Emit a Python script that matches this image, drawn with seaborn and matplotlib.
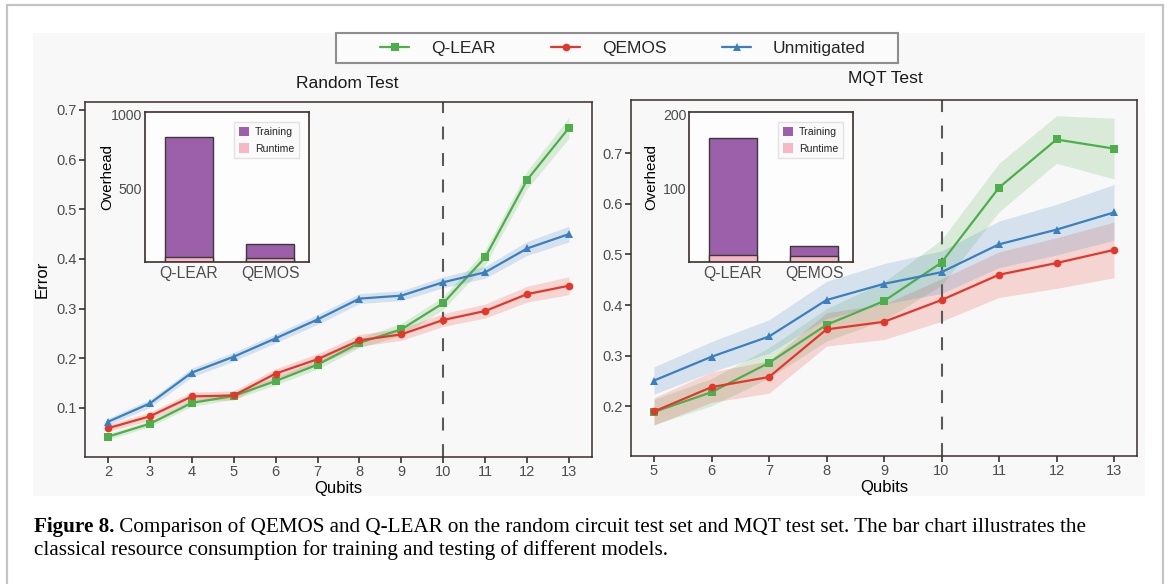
import numpy as np
import pandas as pd
import matplotlib
matplotlib.use("Agg")
import matplotlib.pyplot as plt
import seaborn as sns
from matplotlib.patches import Rectangle, Patch
from matplotlib.lines import Line2D

sns.set_theme(style="white")
plt.rcParams['font.family'] = ['Liberation Sans', 'DejaVu Sans']

# ---------------- data ----------------
series_names = ["Q-LEAR", "QEMOS", "Unmitigated"]

rand_qubits = [2, 3, 4, 5, 6, 7, 8, 9, 10, 11, 12, 13]
rand_qlear = [0.042, 0.068, 0.110, 0.124, 0.154, 0.187, 0.231, 0.258, 0.311, 0.403, 0.559, 0.664]
rand_qemos = [0.059, 0.083, 0.123, 0.125, 0.169, 0.198, 0.236, 0.248, 0.277, 0.295, 0.329, 0.346]
rand_unmit = [0.072, 0.109, 0.171, 0.203, 0.240, 0.278, 0.320, 0.326, 0.353, 0.373, 0.421, 0.450]
rand_qlear_band = [0.006, 0.006, 0.007, 0.007, 0.008, 0.009, 0.010, 0.012, 0.013, 0.015, 0.018, 0.021]
rand_qemos_band = [0.007, 0.008, 0.009, 0.009, 0.010, 0.011, 0.012, 0.012, 0.013, 0.014, 0.016, 0.018]
rand_unmit_band = [0.007, 0.008, 0.009, 0.009, 0.009, 0.010, 0.010, 0.010, 0.011, 0.012, 0.014, 0.016]

mqt_qubits = [5, 6, 7, 8, 9, 10, 11, 12, 13]
mqt_qlear = [0.189, 0.228, 0.286, 0.361, 0.408, 0.484, 0.632, 0.727, 0.709]
mqt_qemos = [0.190, 0.238, 0.258, 0.352, 0.367, 0.410, 0.460, 0.483, 0.509]
mqt_unmit = [0.251, 0.298, 0.338, 0.410, 0.442, 0.465, 0.520, 0.549, 0.583]
mqt_qlear_band = [0.025, 0.027, 0.030, 0.032, 0.038, 0.045, 0.048, 0.047, 0.060]
mqt_qemos_band = [0.027, 0.030, 0.032, 0.033, 0.035, 0.042, 0.045, 0.050, 0.055]
mqt_unmit_band = [0.027, 0.030, 0.033, 0.037, 0.040, 0.042, 0.046, 0.050, 0.055]

rand_yticks = [0.1, 0.2, 0.3, 0.4, 0.5, 0.6, 0.7]
mqt_yticks = [0.2, 0.3, 0.4, 0.5, 0.6, 0.7]

models = ["Q-LEAR", "QEMOS"]
rand_training = [818, 95]
rand_runtime = [34, 27]
mqt_training = [160, 14]
mqt_runtime = [9, 8]
rand_inset_ticks = [500, 1000]
mqt_inset_ticks = [100, 200]

caption_bold = "Figure 8."
caption_line1 = " Comparison of QEMOS and Q-LEAR on the random circuit test set and MQT test set. The bar chart illustrates the"
caption_line2 = "classical resource consumption for training and testing of different models."

# ---------------- style ----------------
colors = {"Q-LEAR": "#4DAF4A", "QEMOS": "#E4372A", "Unmitigated": "#3A80BE"}
markers = {"Q-LEAR": "s", "QEMOS": "o", "Unmitigated": "^"}
purple = "#9B60A9"
pink = "#F5B8C5"
spine_col = "#3a2f2c"
tick_lab_col = "#4d4d4d"

W, H = 1170, 584
fig = plt.figure(figsize=(W / 100, H / 100), dpi=100)
fig.patch.set_facecolor("white")


def fx(px):
    return px / W


def fy(py):
    return 1 - py / H


def box(x0, y0, x1, y1):
    return [fx(x0), fy(y1), fx(x1) - fx(x0), fy(y0) - fy(y1)]


# page frame and image background
fig.patches.append(Rectangle((fx(7), fy(620)), fx(1163) - fx(7), fy(5) - fy(620),
                             transform=fig.transFigure, fill=False, ec="#c4c4c4", lw=1.6, zorder=-5))
fig.patches.append(Rectangle((fx(33), fy(496)), fx(1145) - fx(33), fy(33) - fy(496),
                             transform=fig.transFigure, fc="#f8f8f8", ec="none", zorder=-5))


def style_spines(ax, lw=1.1):
    for s in ax.spines.values():
        s.set_visible(True)
        s.set_color(spine_col)
        s.set_linewidth(lw)


def draw_main(ax, x, data, bands, xlim, ylim, yticks):
    ax.set_facecolor("none")
    for name in series_names:
        y = np.array(data[name])
        b = np.array(bands[name])
        ax.fill_between(x, y - b, y + b, color=colors[name], alpha=0.18, lw=0)
        sns.lineplot(x=x, y=y, ax=ax, color=colors[name], marker=markers[name],
                     markersize=5.5, markeredgewidth=0, linewidth=1.6)
    ax.axvline(10, color="#5a5a5a", ls=(0, (6.2, 6.5)), lw=1.5, zorder=1)
    ax.set_xlim(*xlim)
    ax.set_ylim(*ylim)
    ax.set_xticks(x)
    ax.set_xticklabels([str(v) for v in x])
    ax.set_yticks(yticks)
    ax.set_yticklabels([f"{v:.1f}" for v in yticks])
    ax.tick_params(bottom=True, left=True, direction="out", length=4, width=1.1,
                   color="#222222", labelcolor=tick_lab_col, labelsize=10.5, pad=2)
    ax.set_xlabel("Qubits", fontsize=12, color="black", labelpad=1)
    ax.set_ylabel("")
    style_spines(ax)


def draw_inset(ax, training, runtime, ylim, yticks):
    ax.set_facecolor("#fdfdfd")
    total = [t + r for t, r in zip(training, runtime)]
    df = pd.DataFrame({"model": models, "total": total, "runtime": runtime})
    sns.barplot(data=df, x="model", y="total", color=purple, width=0.59, saturation=1,
                edgecolor="#3a3a3a", linewidth=1.0, ax=ax)
    sns.barplot(data=df, x="model", y="runtime", color=pink, width=0.59, saturation=1,
                edgecolor="#3a3a3a", linewidth=1.0, ax=ax)
    ax.set_xlim(-0.54, 1.48)
    ax.set_ylim(*ylim)
    ax.set_yticks(yticks)
    ax.set_yticklabels([str(v) for v in yticks])
    ax.tick_params(axis="y", length=0, pad=2, labelsize=10.2, labelcolor=tick_lab_col)
    ax.tick_params(axis="x", length=0, pad=3, labelsize=11.3, labelcolor=tick_lab_col)
    ax.set_xlabel("")
    ax.set_ylabel("Overhead", fontsize=10.8, color="black")
    ax.yaxis.set_label_coords(-0.189, 0.567)
    style_spines(ax, 1.2)
    handles = [Patch(facecolor=purple, edgecolor="none"), Patch(facecolor=pink, edgecolor="none")]
    leg = ax.legend(handles, ["Training", "Runtime"], loc="upper right",
                    bbox_to_anchor=(0.937, 0.935), fontsize=7.6, frameon=True,
                    handlelength=1.0, handleheight=1.0, handletextpad=0.5,
                    borderpad=0.45, labelspacing=0.6, fancybox=False, borderaxespad=0)
    leg.get_frame().set_edgecolor("#dcdcdc")
    leg.get_frame().set_facecolor("#fafafa")
    leg.get_frame().set_linewidth(1.0)


# ---------------- left: Random Test ----------------
ax1 = fig.add_axes(box(85, 102, 592, 457))
draw_main(ax1, rand_qubits,
          {"Q-LEAR": rand_qlear, "QEMOS": rand_qemos, "Unmitigated": rand_unmit},
          {"Q-LEAR": rand_qlear_band, "QEMOS": rand_qemos_band, "Unmitigated": rand_unmit_band},
          (1.45, 13.55), (0.001, 0.716), rand_yticks)
ax1.set_ylabel("Error", fontsize=12, color="black", labelpad=5)

# ---------------- right: MQT Test ----------------
ax2 = fig.add_axes(box(631, 100, 1137, 456))
draw_main(ax2, mqt_qubits,
          {"Q-LEAR": mqt_qlear, "QEMOS": mqt_qemos, "Unmitigated": mqt_unmit},
          {"Q-LEAR": mqt_qlear_band, "QEMOS": mqt_qemos_band, "Unmitigated": mqt_unmit_band},
          (4.6, 13.4), (0.102, 0.805), mqt_yticks)

# ---------------- insets ----------------
ins1 = fig.add_axes(box(145, 112, 309, 262))
draw_inset(ins1, rand_training, rand_runtime, (0, 1020), rand_inset_ticks)
ins2 = fig.add_axes(box(689, 112, 853, 262))
draw_inset(ins2, mqt_training, mqt_runtime, (0, 204), mqt_inset_ticks)

# ---------------- titles ----------------
fig.text(fx(347), fy(83), "Random Test", ha="center", va="center", fontsize=12.6, color="#1a1a1a")
fig.text(fx(885), fy(79), "MQT Test", ha="center", va="center", fontsize=12.6, color="#1a1a1a")

# ---------------- shared legend ----------------
fig.patches.append(Rectangle((fx(336), fy(63)), fx(898) - fx(336), fy(33) - fy(63),
                             transform=fig.transFigure, fc="#fbfbfb", ec="#8e8e8e", lw=1.5, zorder=2))
leg_handles = [Line2D([0], [0], color=colors[n], marker=markers[n], markersize=5.5,
                      markeredgewidth=0, lw=1.6) for n in series_names]
fig.legend(leg_handles, series_names, loc="center", bbox_to_anchor=(fx(623), fy(48)),
           ncol=3, frameon=False, fontsize=12.5, handlelength=1.67, handletextpad=1.26,
           columnspacing=3.2, borderpad=0, borderaxespad=0)

# ---------------- caption ----------------
serif = ["Liberation Serif", "DejaVu Serif"]
renderer = fig.canvas.get_renderer()
trial = 14.0
tb = fig.text(0, 0, caption_bold, fontfamily=serif, fontweight="bold", fontsize=trial)
tr = fig.text(0, 0, caption_line1, fontfamily=serif, fontsize=trial)
wtot = tb.get_window_extent(renderer).width + tr.get_window_extent(renderer).width
tb.remove()
tr.remove()
cap_fs = trial * (1091 - 34) / wtot

t_bold = fig.text(fx(34), fy(532), caption_bold, fontfamily=serif, fontweight="bold",
                  fontsize=cap_fs, va="baseline", color="black")
wb = t_bold.get_window_extent(renderer).width
fig.text(fx(34 + wb), fy(532), caption_line1, fontfamily=serif, fontsize=cap_fs,
         va="baseline", color="black")
fig.text(fx(34), fy(555.5), caption_line2, fontfamily=serif, fontsize=cap_fs,
         va="baseline", color="black")

fig.savefig("out.png", dpi=100, facecolor="white")
